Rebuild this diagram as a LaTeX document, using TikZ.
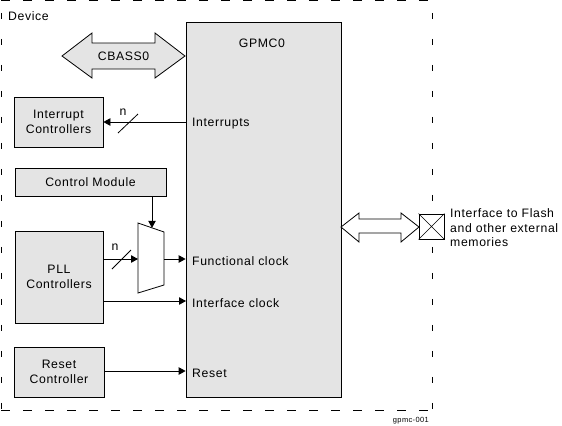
\documentclass[tikz,border=0pt]{standalone}
\usepackage{fontspec}
\setmainfont{Liberation Sans}[LetterSpace=5]
\usetikzlibrary{arrows.meta}
\definecolor{boxgray}{HTML}{E4E4E4}
\tikzset{
  blk/.style={draw, fill=boxgray, line width=0.8bp, inner sep=0pt, align=center,
    font=\fontsize{12.3}{14.5}\selectfont},
  lbl/.style={inner sep=0pt, font=\fontsize{12.3}{14.5}\selectfont},
  arr/.style={line width=0.8bp, -{Triangle[length=7bp,width=7.5bp]}},
  ln/.style={line width=0.8bp},
  dev/.style={line width=0.8bp},
}
\begin{document}
\begin{tikzpicture}[x=1bp,y=-1bp]
\useasboundingbox (0,0) rectangle (562,425);
% device boundary
\draw[dev, dash pattern=on 9bp off 13bp] (1,0.8) -- (432,0.8);
\draw[dev, dash pattern=on 9bp off 13bp] (1,410) -- (432,410);
\draw[dev, dash pattern=on 6bp off 20bp, dash phase=-12bp] (1,0.8) -- (1,410);
\draw[dev, dash pattern=on 6bp off 20bp, dash phase=-12bp] (432,0.8) -- (432,410);
\node[lbl, anchor=west] (devlbl) at (8,16) {Device};
% GPMC
\node[blk, minimum width=155bp, minimum height=375bp] (gpmc) at (263.5,209.5) {};
\node[lbl] (gpmcl) at (262,43) {GPMC0};
% CBASS0 double arrow
\draw[ln, fill=boxgray] (62,56) -- (92,33) -- (92,43) -- (155,43) -- (155,33) -- (185,56)
  -- (155,78) -- (155,69) -- (92,69) -- (92,78) -- cycle;
\node[lbl] (cbass) at (123.5,56) {CBASS0};
% Interrupt controllers
\node[blk, minimum width=89bp, minimum height=50bp] (intc) at (58.5,122) {Interrupt\\Controllers};
\draw[arr] (gpmc.west |- intc.east) -- (intc.east);
\draw[ln] (118,133) -- (138,114);
\node[lbl] (n1) at (123,112) {n};
\node[lbl, anchor=west] (irq) at (192,124) {Interrupts};
% Control module
\node[blk, minimum width=151bp, minimum height=28bp] (cm) at (90.5,182) {Control Module};
% PLL
\node[blk, minimum width=88bp, minimum height=92bp] (pll) at (59,277) {PLL\\Controllers};
% mux
\draw[ln] (138,223) -- (164,232) -- (164,285) -- (138,293) -- cycle;
\coordinate (muxtop) at (152,227.8);
\coordinate (muxin) at (138,259);
\coordinate (muxout) at (164,259);
\draw[arr] (cm.south -| muxtop) -- (muxtop);
\draw[arr] (pll.east |- muxin) -- (muxin);
\draw[ln] (112,269) -- (131,250);
\node[lbl] (n2) at (115,247) {n};
\draw[arr] (muxout) -- (gpmc.west |- muxout);
\node[lbl, anchor=west] (fclk) at (192,261) {Functional clock};
\coordinate (ifclk) at (186,301);
\draw[arr] (pll.east |- ifclk) -- (ifclk);
\node[lbl, anchor=west] (iclk) at (192,303) {Interface clock};
% Reset
\node[blk, minimum width=90bp, minimum height=50bp] (rst) at (59,372) {Reset\\Controller};
\draw[arr] (rst.east |- 0,371) -- (gpmc.west |- 0,371);
\node[lbl, anchor=west] (rstl) at (192,373) {Reset};
% external interface
\draw[ln, fill=white] (341,227) -- (359,213) -- (359,219) -- (401,219) -- (401,213) -- (419,227)
  -- (401,242) -- (401,233) -- (359,233) -- (359,242) -- cycle;
\node[draw, fill=white, line width=0.8bp, minimum size=25bp, inner sep=0pt] (pin) at (431.5,226.5) {};
\draw[line width=0.6bp] (pin.north west) -- (pin.south east) (pin.north east) -- (pin.south west);
\node[lbl, anchor=west, align=left] (ext) at (450,228) {Interface to Flash\\and other external\\memories};
\node[inner sep=0pt, anchor=east, font=\fontsize{7.5}{9}\selectfont] (fig) at (429,421) {gpmc-001};
\end{tikzpicture}
\end{document}
